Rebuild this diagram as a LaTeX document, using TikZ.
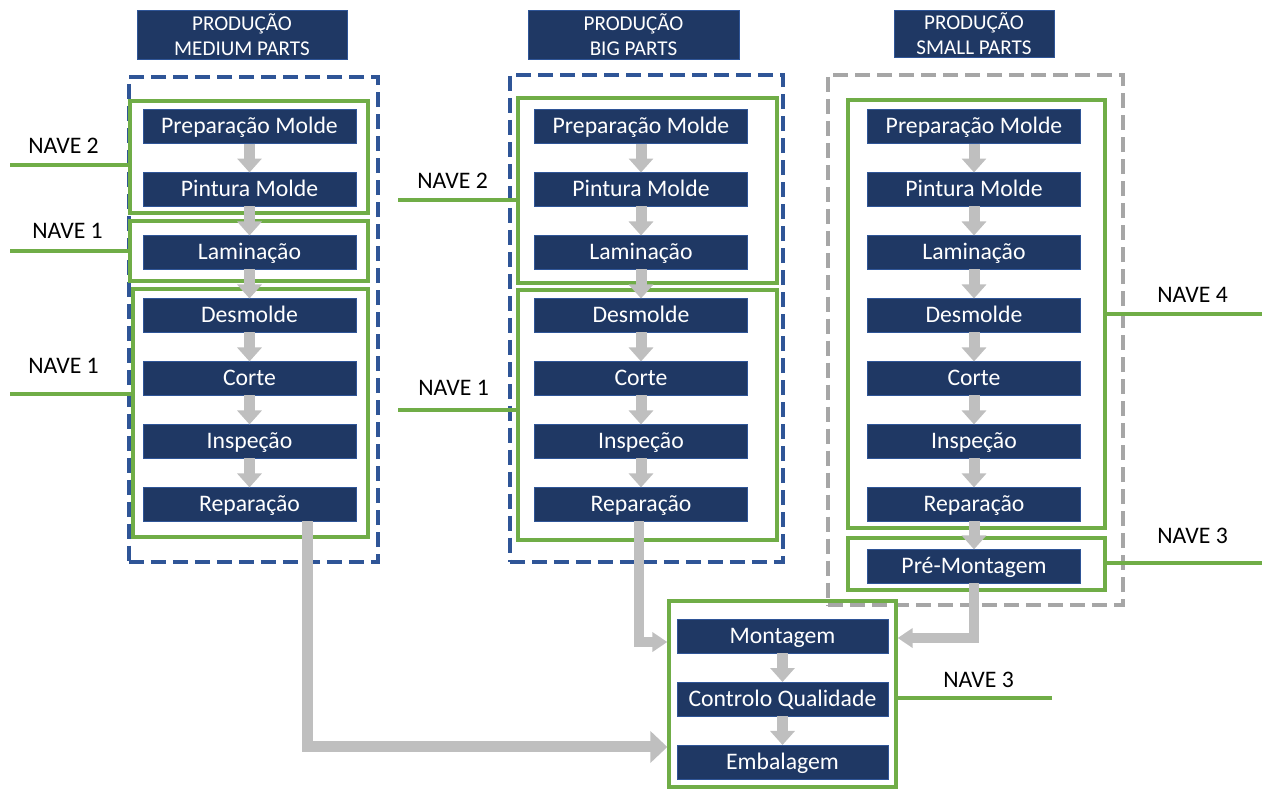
\documentclass[tikz,border=0pt]{standalone}
\usepackage{fontspec}
\setmainfont{Carlito}
\usetikzlibrary{positioning,arrows.meta,fit,calc}

\definecolor{navy}{HTML}{1F3864}
\definecolor{navyedge}{HTML}{2F5597}
\definecolor{zoneblue}{HTML}{2F5597}
\definecolor{zonegrey}{HTML}{A6A6A6}
\definecolor{navegreen}{HTML}{70AD47}
\definecolor{flowgrey}{HTML}{BFBFBF}

\begin{document}
\begin{tikzpicture}[
  x=0.02cm, y=-0.02cm,
  node distance=0.58cm,
  stepbox/.style={draw=navyedge, line width=0.5pt, fill=navy, text=white, minimum width=4.26cm, minimum height=0.68cm, inner sep=0pt, outer sep=0pt, text height=0.9em, text depth=0.1em, font=\fontsize{13.5}{15}\selectfont},
  headbox/.style={draw=navyedge, line width=0.5pt, fill=navy, text=white, minimum height=0.98cm, inner sep=0pt, align=center, font=\fontsize{12}{14.6}\selectfont},
  zone/.style={draw=zoneblue, line width=2.6pt, dash pattern=on 0.3cm off 0.14cm, inner sep=0pt},
  grp/.style={draw=navegreen, line width=1.9pt, inner sep=0pt},
  navelink/.style={draw=navegreen, line width=1.9pt},
  navetxt/.style={font=\fontsize{13.5}{15}\selectfont, inner sep=0pt, anchor=base west},
  flow/.style={draw=flowgrey, line width=0.22cm, -{Triangle[width=0.48cm, length=0.28cm]}},
  bigflow/.style={draw=flowgrey, line width=0.22cm, -{Triangle[width=0.62cm, length=0.34cm]}},
  feedflow/.style={draw=flowgrey, line width=0.2cm, -{Triangle[width=0.38cm, length=0.3cm]}}
]
  \useasboundingbox (0,0) rectangle (1262,789);

  % headers
  \node[headbox, minimum width=4.2cm] (hm) at (242,34.5) {PRODUÇÃO\\MEDIUM PARTS};
  \node[headbox, minimum width=4.22cm] (hb) at (633.5,34.5) {PRODUÇÃO\\BIG PARTS};
  \node[headbox, minimum width=3.2cm, minimum height=0.94cm] (hs) at (974,33.5) {PRODUÇÃO\\SMALL PARTS};

  % production zones
  \node[zone, fit={(129,77) (378,562)}] (zm) {};
  \node[zone, fit={(510,75) (783,562)}] (zb) {};
  \node[zone, draw=zonegrey, fit={(828,75) (1123,605)}] (zs) {};

  % naves
  \node[grp, fit={(130,101) (368,213)}] (gm1) {};
  \node[grp, fit={(130,221) (368,281)}] (gm2) {};
  \node[grp, fit={(133,289) (368,537)}] (gm3) {};
  \node[grp, fit={(518,98) (777,283)}] (gb1) {};
  \node[grp, fit={(518,290) (777,540)}] (gb2) {};
  \node[grp, fit={(848,100) (1105,528)}] (gs1) {};
  \node[grp, fit={(848,538) (1105,590)}] (gs2) {};
  \node[grp, fit={(669,601) (896,787)}] (gbot) {};

  \coordinate (n1) at (10,165);
  \coordinate (n2) at (10,251);
  \coordinate (n3) at (10,394);
  \coordinate (n4) at (398,200);
  \coordinate (n5) at (398,410);
  \coordinate (n6) at (1262,314);
  \coordinate (n7) at (1262,563);
  \coordinate (n8) at (1052,698);
  \draw[navelink] (n1) -- (n1 -| gm1.west);
  \draw[navelink] (n2) -- (n2 -| gm2.west);
  \draw[navelink] (n3) -- (n3 -| gm3.west);
  \draw[navelink] (n4) -- (n4 -| gb1.west);
  \draw[navelink] (n5) -- (n5 -| gb2.west);
  \draw[navelink] (n6) -- (n6 -| gs1.east);
  \draw[navelink] (n7) -- (n7 -| gs2.east);
  \draw[navelink] (n8) -- (n8 -| gbot.east);

  \node[navetxt] (t1) at (28,153) {NAVE 2};
  \node[navetxt] (t2) at (32,238) {NAVE 1};
  \node[navetxt] (t3) at (28,373) {NAVE 1};
  \node[navetxt] (t4) at (417,188) {NAVE 2};
  \node[navetxt] (t5) at (418,395) {NAVE 1};
  \node[navetxt] (t6) at (1157,302) {NAVE 4};
  \node[navetxt] (t7) at (1157,543) {NAVE 3};
  \node[navetxt] (t8) at (943,687) {NAVE 3};

  % medium parts
  \node[stepbox] (m1) at (249.5,126.5) {Preparação Molde};
  \node[stepbox, below=of m1] (m2) {Pintura Molde};
  \node[stepbox, below=of m2] (m3) {Laminação};
  \node[stepbox, below=of m3] (m4) {Desmolde};
  \node[stepbox, below=of m4] (m5) {Corte};
  \node[stepbox, below=of m5] (m6) {Inspeção};
  \node[stepbox, below=of m6] (m7) {Reparação};

  % big parts
  \node[stepbox] (b1) at (641,126.5) {Preparação Molde};
  \node[stepbox, below=of b1] (b2) {Pintura Molde};
  \node[stepbox, below=of b2] (b3) {Laminação};
  \node[stepbox, below=of b3] (b4) {Desmolde};
  \node[stepbox, below=of b4] (b5) {Corte};
  \node[stepbox, below=of b5] (b6) {Inspeção};
  \node[stepbox, below=of b6] (b7) {Reparação};

  % small parts
  \node[stepbox] (s1) at (974,126.5) {Preparação Molde};
  \node[stepbox, below=of s1] (s2) {Pintura Molde};
  \node[stepbox, below=of s2] (s3) {Laminação};
  \node[stepbox, below=of s3] (s4) {Desmolde};
  \node[stepbox, below=of s4] (s5) {Corte};
  \node[stepbox, below=of s5] (s6) {Inspeção};
  \node[stepbox, below=of s6] (s7) {Reparação};
  \node[stepbox, below=0.56cm of s7] (s8) {Pré-Montagem};

  % final line
  \node[stepbox, minimum width=4.22cm] (e1) at (782.5,636) {Montagem};
  \node[stepbox, minimum width=4.22cm, below=of e1] (e2) {Controlo Qualidade};
  \node[stepbox, minimum width=4.22cm, below=of e2] (e3) {Embalagem};

  \draw[flow] (m1) -- (m2);
  \draw[flow] (m2) -- (m3);
  \draw[flow] (m3) -- (m4);
  \draw[flow] (m4) -- (m5);
  \draw[flow] (m5) -- (m6);
  \draw[flow] (m6) -- (m7);
  \draw[flow] (b1) -- (b2);
  \draw[flow] (b2) -- (b3);
  \draw[flow] (b3) -- (b4);
  \draw[flow] (b4) -- (b5);
  \draw[flow] (b5) -- (b6);
  \draw[flow] (b6) -- (b7);
  \draw[flow] (s1) -- (s2);
  \draw[flow] (s2) -- (s3);
  \draw[flow] (s3) -- (s4);
  \draw[flow] (s4) -- (s5);
  \draw[flow] (s5) -- (s6);
  \draw[flow] (s6) -- (s7);
  \draw[flow] (s7) -- (s8);
  \draw[flow] (e1) -- (e2);
  \draw[flow] (e2) -- (e3);

  \draw[bigflow] ($(m7.south)+(57.5,0)$) |- ($(e3.west -| gbot.west)+(0,-15)$);
  \draw[feedflow] ($(b7.south)+(-2,0)$) |- ($(e1.west -| gbot.west)+(0,6)$);
  \draw[feedflow] (s8.south) |- ($(e1.east -| gbot.east)+(0,2)$);
\end{tikzpicture}
\end{document}
